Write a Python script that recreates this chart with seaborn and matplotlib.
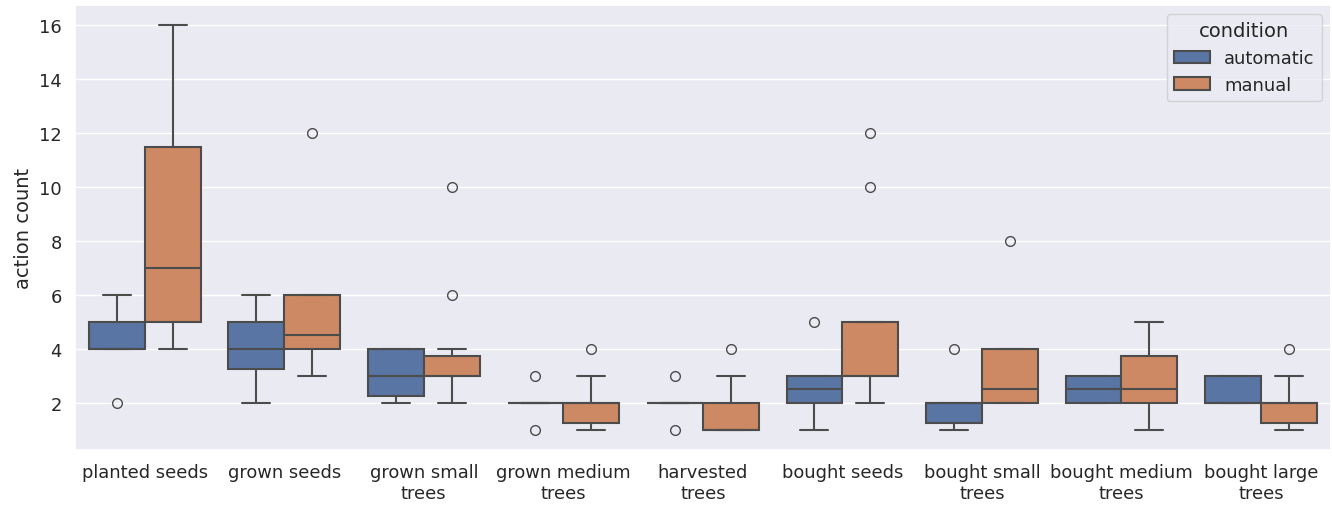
import pandas as pd
import matplotlib
matplotlib.use("Agg")
import matplotlib.pyplot as plt
import seaborn as sns

# acções por participante, uma lista por categoria e condição
categorias = ['planted seeds', 'grown seeds', 'grown small trees', 'grown medium trees',
              'harvested trees', 'bought seeds', 'bought small trees',
              'bought medium trees', 'bought large trees']
rotulos = ['planted seeds', 'grown seeds', 'grown small\ntrees', 'grown medium\ntrees',
           'harvested\ntrees', 'bought seeds', 'bought small\ntrees',
           'bought medium\ntrees', 'bought large\ntrees']

automatic = [
    [2, 4, 4, 4, 4, 4, 5, 5, 5, 6],
    [2, 3, 3, 4, 4, 4, 5, 5, 5, 6],
    [2, 2, 2, 3, 3, 3, 4, 4, 4, 4],
    [1, 2, 2, 2, 2, 2, 2, 2, 2, 3],
    [1, 2, 2, 2, 2, 2, 2, 2, 2, 3],
    [1, 2, 2, 2, 2, 3, 3, 3, 3, 5],
    [1, 1, 1, 2, 2, 2, 2, 2, 2, 4],
    [2, 2, 2, 2, 2, 3, 3, 3, 3, 3],
    [2, 2, 2, 2, 2, 2, 3, 3, 3, 3],
]
manual = [
    [4, 5, 5, 5, 6, 8, 10, 12, 14, 16],
    [3, 4, 4, 4, 4, 5, 6, 6, 6, 12],
    [2, 3, 3, 3, 3, 3, 3, 4, 6, 10],
    [1, 1, 1, 2, 2, 2, 2, 2, 3, 4],
    [1, 1, 1, 1, 1, 1, 2, 2, 3, 4],
    [2, 3, 3, 3, 3, 3, 5, 5, 10, 12],
    [2, 2, 2, 2, 2, 3, 4, 4, 4, 8],
    [1, 2, 2, 2, 2, 3, 3, 4, 4, 5],
    [1, 1, 1, 2, 2, 2, 2, 2, 3, 4],
]

linhas = []
for cat, a, m in zip(categorias, automatic, manual):
    for v in a:
        linhas.append({'action': cat, 'condition': 'automatic', 'action count': v})
    for v in m:
        linhas.append({'action': cat, 'condition': 'manual', 'action count': v})
df = pd.DataFrame(linhas)

sns.set_theme(style="darkgrid", font_scale=1.17)
fig, ax = plt.subplots(figsize=(13.32, 5.06), dpi=100)
sns.boxplot(data=df, x='action', y='action count', hue='condition',
            order=categorias, ax=ax, linewidth=1.5, fliersize=7)
ax.set_xticks(range(len(rotulos)))
ax.set_xticklabels(rotulos)
ax.set_xlabel('')
ax.set_yticks([2, 4, 6, 8, 10, 12, 14, 16])
ax.legend(title='condition', loc='upper right')

fig.subplots_adjust(left=75/1332, right=0.999, top=1 - 6/506, bottom=1 - 451/506)
plt.savefig('out.png', dpi=100)
